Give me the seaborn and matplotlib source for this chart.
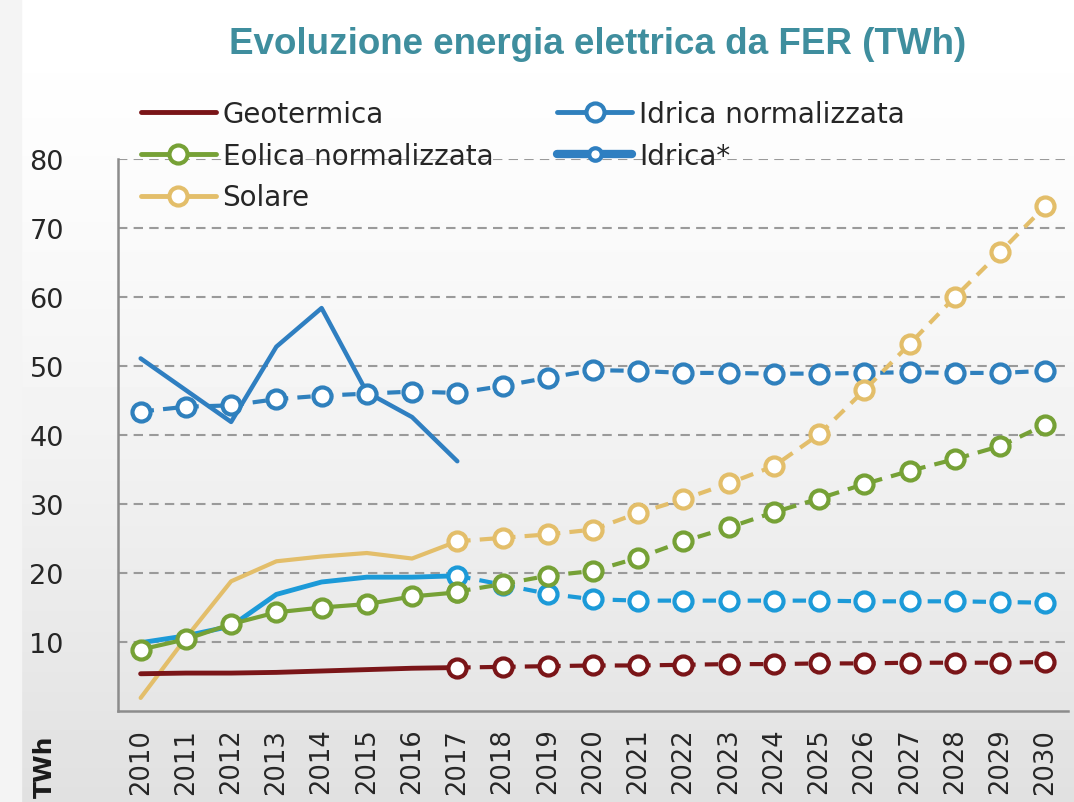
import numpy as np
import matplotlib
matplotlib.use("Agg")
import matplotlib.pyplot as plt
from matplotlib.lines import Line2D
from matplotlib.ticker import MultipleLocator
import seaborn as sns

# --- data (TWh) ---
years_hist = list(range(2010, 2018))
years_proj = list(range(2017, 2031))
years_all = list(range(2010, 2031))

geo_hist = [5.4, 5.5, 5.5, 5.6, 5.8, 6.0, 6.2, 6.3]
geo_proj = [6.3, 6.4, 6.5, 6.6, 6.6, 6.7, 6.8, 6.8, 6.9, 6.9, 7.0, 7.0, 7.0, 7.1]

eolica_hist = [8.9, 10.4, 12.6, 14.3, 15.0, 15.5, 16.6, 17.2]
eolica_proj = [17.3, 18.4, 19.6, 20.3, 22.2, 24.6, 26.6, 28.8, 30.8, 32.9, 34.8, 36.5, 38.4, 41.5]

solare_hist = [1.9, 10.6, 18.8, 21.7, 22.4, 22.9, 22.1, 24.6]
solare_proj = [24.6, 25.1, 25.6, 26.3, 28.7, 30.7, 33.0, 35.5, 40.1, 46.5, 53.2, 60.0, 66.5, 73.2]

idrica_norm = [43.4, 44.1, 44.3, 45.2, 45.7, 46.0, 46.3, 46.1, 47.1, 48.3, 49.4,
               49.3, 49.0, 49.0, 48.9, 48.9, 49.0, 49.1, 49.0, 49.0, 49.3]

idrica_star = [51.1, 46.5, 41.9, 52.8, 58.4, 46.2, 42.6, 36.2]

bio_hist = [9.9, 10.9, 12.3, 16.9, 18.7, 19.4, 19.4, 19.6]
bio_proj = [19.6, 18.3, 17.0, 16.2, 16.0, 16.0, 16.0, 16.0, 16.0, 15.9, 15.9, 15.9, 15.8, 15.7]

c_geo = "#7a1518"
c_eol = "#76a136"
c_sol = "#e3be6a"
c_idn = "#2f80bd"
c_ids = "#2f7fc1"
c_bio = "#1c9ad8"

sns.set_style("white")
plt.rcParams['font.family'] = ['DejaVu Sans']

fig = plt.figure(figsize=(10.74, 8.03), dpi=100)

# slide background: white at the top fading to light gray
bg = fig.add_axes([0, 0, 1, 1], zorder=-10)
t = np.linspace(0, 1, 256)
grad = (1.0 - 0.12 * t ** 1.4).reshape(-1, 1)
bg.imshow(grad, aspect="auto", cmap="gray", vmin=0, vmax=1, extent=[0.02, 1, 0, 0.995],
          interpolation="bilinear")
bg.axvspan(0, 0.02, color="#f4f4f4")
bg.set_xlim(0, 1)
bg.set_ylim(0, 1)
bg.axis("off")

ax = fig.add_axes([0.1099, 0.1133, 0.8845, 0.6874])
ax.set_facecolor("none")

dash = (0, (3.2, 2.2))
mk = dict(marker="o", markersize=13, markerfacecolor="white", markeredgewidth=3)

# historical solid lines
sns.lineplot(x=years_hist, y=idrica_star, ax=ax, color=c_ids, linewidth=3.2, zorder=3)
sns.lineplot(x=years_hist, y=solare_hist, ax=ax, color=c_sol, linewidth=3, zorder=3)
sns.lineplot(x=years_hist, y=bio_hist, ax=ax, color=c_bio, linewidth=3.5, zorder=3)
sns.lineplot(x=years_hist, y=geo_hist, ax=ax, color=c_geo, linewidth=3.5, zorder=3)
sns.lineplot(x=years_hist, y=eolica_hist, ax=ax, color=c_eol, linewidth=3, zorder=4,
             markeredgecolor=c_eol, **mk)

# projections: dashed with hollow circles
sns.lineplot(x=years_all, y=idrica_norm, ax=ax, color=c_idn, linewidth=3, linestyle=dash,
             markeredgecolor=c_idn, zorder=4, **mk)
sns.lineplot(x=years_proj, y=solare_proj, ax=ax, color=c_sol, linewidth=3, linestyle=dash,
             markeredgecolor=c_sol, zorder=4, **mk)
sns.lineplot(x=years_proj, y=bio_proj, ax=ax, color=c_bio, linewidth=3, linestyle=dash,
             markeredgecolor=c_bio, zorder=4, **mk)
sns.lineplot(x=years_proj, y=eolica_proj, ax=ax, color=c_eol, linewidth=3, linestyle=dash,
             markeredgecolor=c_eol, zorder=5, **mk)
sns.lineplot(x=years_proj, y=geo_proj, ax=ax, color=c_geo, linewidth=3, linestyle=dash,
             markeredgecolor=c_geo, zorder=4, **mk)

# axes
ax.set_xlim(2009.5, 2030.5)
ax.set_ylim(0, 80)
ax.set_xticks(years_all)
ax.set_xticklabels([str(y) for y in years_all], rotation=90, fontsize=18.5)
ax.xaxis.set_minor_locator(MultipleLocator(1, offset=0.5))
ax.tick_params(axis="x", which="major", length=0, pad=12)
ax.tick_params(axis="x", which="minor", length=11, width=1.5, color="#8c8c8c", direction="out")
ax.set_yticks([10, 20, 30, 40, 50, 60, 70, 80])
ax.tick_params(axis="y", which="major", length=12, width=1.5, color="#8c8c8c",
               direction="out", labelsize=19.5, pad=27)
ax.set_xlabel("")
ax.set_ylabel("")
ax.yaxis.grid(True, linestyle=(0, (4.5, 3)), color="#9a9a9a", linewidth=1.5)
ax.xaxis.grid(False)
ax.set_axisbelow(True)
for s in ["top", "right"]:
    ax.spines[s].set_visible(False)
for s in ["left", "bottom"]:
    ax.spines[s].set_color("#8c8c8c")
    ax.spines[s].set_linewidth(1.8)

fig.text(0.556, 0.944, "Evoluzione energia elettrica da FER (TWh)", ha="center", va="center",
         fontsize=26.5, fontweight="bold", color="#3f8e9e", family=["Liberation Sans", "DejaVu Sans"])
fig.text(0.042, 0.045, "TWh", rotation=90, ha="center", va="center", fontsize=18,
         fontweight="bold", color="#1a1a1a")

# legend
hmk = dict(marker="o", markersize=13, markerfacecolor="white", markeredgewidth=3)
handles = [
    Line2D([], [], color=c_geo, linewidth=3.5),
    Line2D([], [], color=c_eol, linewidth=3.5, markeredgecolor=c_eol, **hmk),
    Line2D([], [], color=c_sol, linewidth=3.5, markeredgecolor=c_sol, **hmk),
    Line2D([], [], color=c_idn, linewidth=3.5, markeredgecolor=c_idn, **hmk),
    Line2D([], [], color=c_ids, linewidth=6, marker="o", markersize=9,
           markerfacecolor="white", markeredgecolor=c_ids, markeredgewidth=3),
]
labels = ["Geotermica", "Eolica normalizzata", "Solare", "Idrica normalizzata", "Idrica*"]
leg = fig.legend(handles, labels, ncol=2, loc="upper left", bbox_to_anchor=(0.118, 0.892),
                 frameon=False, fontsize=20, handlelength=2.7, handletextpad=0.25,
                 columnspacing=2.3, labelspacing=0.5, borderpad=0)

fig.savefig("out.png", dpi=100)
